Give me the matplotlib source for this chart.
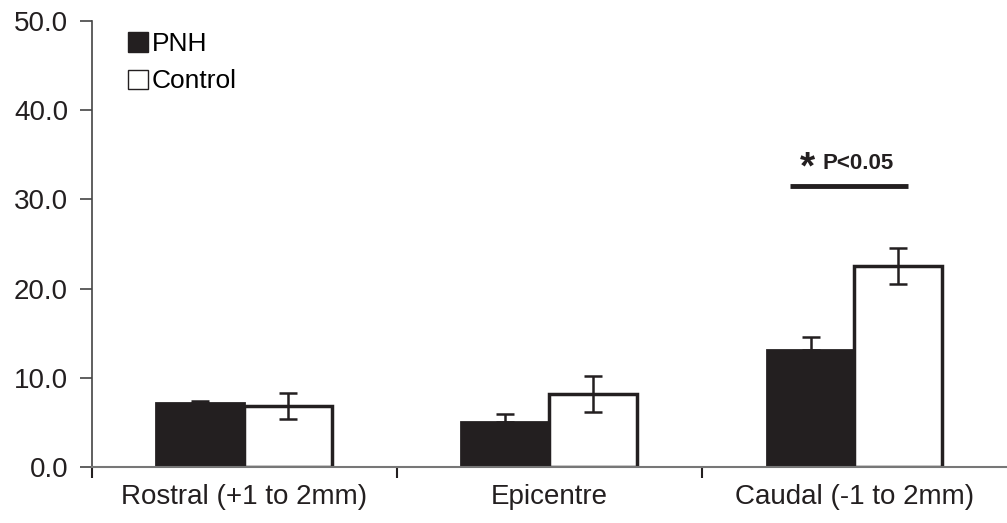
import numpy as np
import matplotlib.pyplot as plt
from matplotlib.patches import Patch

plt.rcParams['font.family'] = ['Liberation Sans', 'DejaVu Sans']

categories = ['Rostral (+1 to 2mm)', 'Epicentre', 'Caudal (-1 to 2mm)']
pnh = [7.2, 5.0, 13.1]
pnh_err = [0.25, 1.0, 1.5]
control = [6.8, 8.2, 22.5]
control_err = [1.45, 2.0, 2.0]
yticks = [0, 10, 20, 30, 40, 50]

x = np.arange(len(categories))
w = 0.288
dark = '#231f20'

fig, ax = plt.subplots(figsize=(10.07, 5.23), dpi=100)
fig.subplots_adjust(left=0.091, right=1.0, top=0.96, bottom=0.107)

ekw = dict(elinewidth=1.8, capthick=1.8, ecolor=dark)
ax.bar(x - w / 2, pnh, w, color=dark, edgecolor=dark, linewidth=2)
ax.errorbar(x - w / 2, pnh, yerr=[[0, 0, 0], pnh_err], fmt='none', capsize=6.5, **ekw)
ax.bar(x + w / 2, control, w, color='white', edgecolor=dark, linewidth=2.5)
ax.errorbar(x + w / 2, control, yerr=control_err, fmt='none', capsize=6.5, **ekw)

# significance bar
ax.plot([1.789, 2.175], [31.5, 31.5], color=dark, lw=3.5, solid_capstyle='butt')
ax.text(1.846, 33.5, '*', ha='center', va='center', fontsize=28, fontweight='bold',
        color=dark)
ax.text(1.895, 34.0, 'P<0.05', ha='left', va='center', fontsize=16,
        fontweight='bold', color=dark)

ax.set_xlim(-0.5, 2.5)
ax.set_ylim(0, 50)
ax.set_yticks(yticks)
ax.set_yticklabels([f'{v:.1f}' for v in yticks])
ax.set_xticks(x)
ax.set_xticklabels(categories)
ax.set_xticks([-0.5, 0.5, 1.5], minor=True)
ax.tick_params(axis='x', which='major', length=0, pad=12, labelsize=20,
               colors=dark)
ax.tick_params(axis='x', which='minor', length=8, width=1.5, color=dark)
ax.tick_params(axis='y', length=9, width=1.2, color='#444444', labelsize=20,
               labelcolor=dark, pad=8)

for s in ['top', 'right']:
    ax.spines[s].set_visible(False)
ax.spines['left'].set_color('#444444')
ax.spines['left'].set_linewidth(1.2)
ax.spines['bottom'].set_color('#777777')
ax.spines['bottom'].set_linewidth(1.5)

handles = [Patch(facecolor=dark, edgecolor=dark, linewidth=1, label='PNH'),
           Patch(facecolor='white', edgecolor=dark, linewidth=1, label='Control')]
ax.legend(handles=handles, loc='upper left', bbox_to_anchor=(0.0135, 1.028),
          frameon=False, fontsize=19, handlelength=0.75, handleheight=0.75,
          handletextpad=0.15, labelspacing=0.5)

plt.savefig('out.png', dpi=100)
